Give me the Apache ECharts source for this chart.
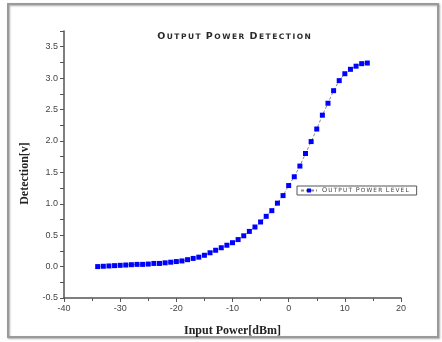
<!DOCTYPE html>
<html>
<head>
<meta charset="utf-8">
<script src="https://cdn.jsdelivr.net/npm/echarts@6/dist/echarts.min.js"></script>
<style>
  html, body { margin: 0; padding: 0; background: #fff; }
  #chart { width: 442px; height: 342px; }
</style>
</head>
<body>
<div id="chart"></div>
<script>
// input power (dBm) and detector output (V)
const inputPower = [
  -34, -33, -32, -31, -30, -29, -28, -27, -26, -25, -24, -23, -22, -21, -20, -19, -18,
  -17, -16, -15, -14, -13, -12, -11, -10, -9, -8, -7, -6, -5, -4, -3, -2, -1,
  0, 1, 2, 3, 4, 5, 6, 7, 8, 9, 10, 11, 12, 13, 14
];
const detection = [
  0.00, 0.005, 0.01, 0.015, 0.02, 0.025, 0.03, 0.035, 0.035, 0.04, 0.05, 0.05, 0.06, 0.07, 0.08, 0.09, 0.11,
  0.13, 0.15, 0.18, 0.22, 0.26, 0.30, 0.34, 0.38, 0.43, 0.49, 0.56, 0.63, 0.71, 0.80, 0.89, 1.01, 1.13,
  1.29, 1.43, 1.60, 1.80, 1.99, 2.19, 2.41, 2.60, 2.80, 2.96, 3.07, 3.14, 3.19, 3.23, 3.24
];
const seriesName = 'OUTPUT POWER LEVEL';

// small caps look, letters spread out a little
function smallCaps(str, gap) {
  return str.split(' ').map(w =>
    '{b|' + w[0] + '}{s|' + gap + w.slice(1).split('').join(gap) + '}'
  ).join('{s|  }');
}

const chart = echarts.init(document.getElementById('chart'));

const points = inputPower.map((x, i) => [x, detection[i]]);

const option = {
  backgroundColor: '#fff',
  animation: false,
  graphic: [
    {
      type: 'rect',
      shape: { x: 8, y: 4, width: 430, height: 333 },
      style: { fill: 'none', stroke: '#9a9a9a', lineWidth: 2, shadowColor: 'rgba(0,0,0,0.35)', shadowBlur: 2, shadowOffsetX: 1, shadowOffsetY: 1 },
      silent: true
    }
  ],
  title: {
    text: smallCaps('OUTPUT POWER DETECTION', '\u2009'),
    left: 229,
    top: 27,
    textAlign: 'center',
    textStyle: {
      rich: {
        b: { fontFamily: 'DejaVu Sans', fontSize: 9.5, fontWeight: 'bold', color: '#2a2a2a' },
        s: { fontFamily: 'DejaVu Sans', fontSize: 7.5, fontWeight: 'bold', color: '#2a2a2a' }
      }
    }
  },
  legend: {
    left: 297,
    top: 186,
    orient: 'vertical',
    itemWidth: 16,
    itemHeight: 5,
    itemGap: 0,
    padding: [1, 8, 1, 3],
    borderColor: '#555',
    borderWidth: 1,
    data: [seriesName],
    formatter: function (n) { return smallCaps(n, '\u2009'); },
    textStyle: {
      padding: [0, 0, 0, 0],
      rich: {
        b: { fontFamily: 'DejaVu Sans', fontSize: 6.5, color: '#444' },
        s: { fontFamily: 'DejaVu Sans', fontSize: 5.8, color: '#444' }
      }
    }
  },
  grid: { left: 64, right: 41, top: 31, bottom: 42 },
  xAxis: {
    type: 'value',
    min: -40,
    max: 20,
    interval: 10,
    name: 'Input Power[dBm]',
    nameLocation: 'middle',
    nameGap: 27,
    nameTextStyle: { fontFamily: 'Liberation Serif', fontWeight: 'bold', fontSize: 12, color: '#222' },
    axisLine: { onZero: false, lineStyle: { color: '#555', width: 1.5 } },
    axisTick: { length: 4, lineStyle: { color: '#555' } },
    minorTick: { show: true, splitNumber: 2, length: 3, lineStyle: { color: '#555' } },
    splitLine: { show: false },
    axisLabel: { fontFamily: 'Liberation Sans', fontSize: 9, color: '#444', margin: 6 }
  },
  yAxis: {
    type: 'value',
    min: -0.5,
    max: 3.75,
    interval: 0.25,
    name: 'Detection[v]',
    nameLocation: 'middle',
    nameGap: 33,
    nameTextStyle: { fontFamily: 'Liberation Serif', fontWeight: 'bold', fontSize: 12, color: '#222', padding: [0, 0, 0, -18] },
    axisLine: { show: true, onZero: false, lineStyle: { color: '#555', width: 1.5 } },
    axisTick: { show: true, length: 4, lineStyle: { color: '#555' } },
    splitLine: { show: false },
    axisLabel: {
      fontFamily: 'Liberation Sans',
      fontSize: 9,
      color: '#444',
      margin: 6,
      formatter: function (v) {
        const h = Math.round(v * 100);
        if (h % 50 !== 0 || h > 350) return '';
        return v.toFixed(1);
      }
    }
  },
  series: [
    {
      name: seriesName,
      type: 'line',
      data: points,
      symbol: 'rect',
      symbolSize: 5,
      itemStyle: { color: '#0000ff' },
      lineStyle: { color: '#888', width: 1, type: [3, 2] }
    }
  ]
};

chart.setOption(option);
</script>
</body>
</html>
